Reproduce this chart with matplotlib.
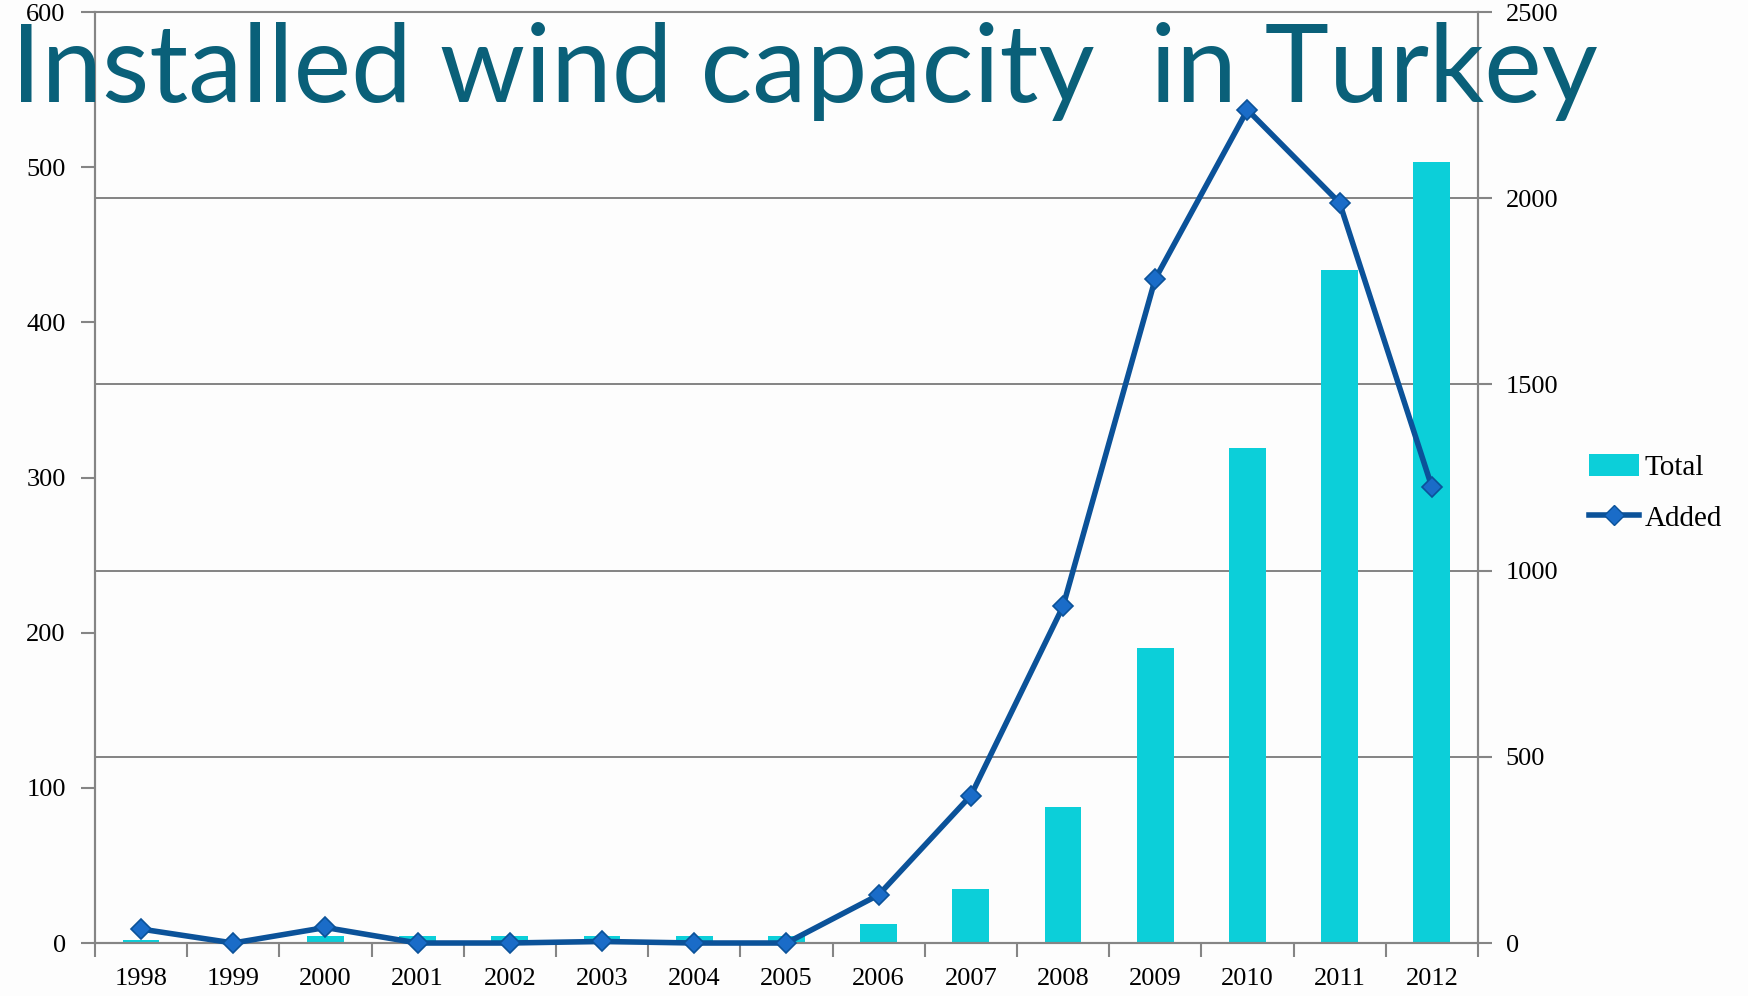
import numpy as np
import matplotlib.pyplot as plt
from matplotlib.patches import Patch
from matplotlib.lines import Line2D

# ======================================
# DATOS
# ======================================

years = ["1998", "1999", "2000", "2001", "2002", "2003", "2004", "2005",
         "2006", "2007", "2008", "2009", "2010", "2011", "2012"]
total = [9, 9, 19, 19, 19, 20, 20, 20, 51, 146, 365, 792, 1328, 1806, 2096]
added = [9, 0, 10, 0, 0, 1, 0, 0, 31, 95, 217, 428, 537, 477, 294]

left_ticks = [0, 100, 200, 300, 400, 500, 600]
right_ticks = [0, 500, 1000, 1500, 2000, 2500]

BAR_COLOR = "#0CCFD9"
LINE_COLOR = "#0B5299"
MARKER_COLOR = "#1A6CC8"
TITLE_COLOR = "#0A6079"
SPINE_COLOR = "#858585"
SERIF = ["Liberation Serif", "DejaVu Serif"]

# ======================================
# FIGURA
# ======================================

fig = plt.figure(figsize=(17.48, 9.96), dpi=100)
fig.patch.set_facecolor("#FDFDFD")

ax = fig.add_axes([0.0543, 0.0532, 0.7912, 0.9347])
ax2 = ax.twinx()

x = np.arange(len(years))

# barras (eje derecho)
ax2.bar(x, total, width=0.4, color=BAR_COLOR, zorder=2)
ax2.set_ylim(0, 2500)
ax2.set_yticks(right_ticks)
ax2.yaxis.grid(True, color="#7A7A7A", linewidth=1.3, zorder=0)
ax2.set_axisbelow(True)

# linea (eje izquierdo), por encima de las barras
ax.set_zorder(ax2.get_zorder() + 1)
ax.patch.set_visible(False)
ax.plot(x, added, color=LINE_COLOR, linewidth=4, marker="D",
        markersize=10, markerfacecolor=MARKER_COLOR,
        markeredgecolor=LINE_COLOR, markeredgewidth=1.2, zorder=3,
        clip_on=False)
ax.set_ylim(0, 600)
ax.set_yticks(left_ticks)
ax.set_xlim(-0.5, len(years) - 0.5)

# ticks del eje x entre categorias
ax.set_xticks(np.arange(len(years) + 1) - 0.5)
ax.set_xticklabels([])
ax.set_xticks(x, minor=True)
ax.set_xticklabels(years, minor=True)
ax.tick_params(axis="x", which="major", length=10, width=1.5,
               color=SPINE_COLOR, direction="out")
ax.tick_params(axis="x", which="minor", length=0, pad=18)
ax.tick_params(axis="y", length=10, width=1.5, color=SPINE_COLOR, pad=11)
ax2.tick_params(axis="y", length=10, width=1.5, color=SPINE_COLOR, pad=10)

for lab in ax.get_xticklabels(minor=True) + ax.get_yticklabels() + ax2.get_yticklabels():
    lab.set_family(SERIF)
    lab.set_fontsize(19)
    lab.set_color("black")

for a in (ax, ax2):
    for s in a.spines.values():
        s.set_color(SPINE_COLOR)
        s.set_linewidth(1.5)
    a.spines["top"].set_visible(False)
ax.spines["top"].set_visible(True)

# ======================================
# TITULO Y LEYENDA
# ======================================

fig.text(0.0065, 0.8976, "Installed wind capacity  in Turkey",
         fontsize=78.3, color=TITLE_COLOR, family=["Lato", "DejaVu Sans"],
         ha="left", va="baseline")

handles = [
    Patch(facecolor=BAR_COLOR, edgecolor="none", label="Total"),
    Line2D([0], [0], color=LINE_COLOR, linewidth=4, marker="D",
           markersize=10, markerfacecolor=MARKER_COLOR,
           markeredgecolor=LINE_COLOR, label="Added"),
]
fig.legend(handles=handles, loc="center left", bbox_to_anchor=(0.909, 0.505),
           frameon=False, handlelength=1.7, handleheight=0.8, handletextpad=0.2,
           labelspacing=0.8, borderaxespad=0, borderpad=0,
           prop={"family": SERIF, "size": 21})

fig.savefig("out.png", dpi=100, facecolor=fig.get_facecolor())
